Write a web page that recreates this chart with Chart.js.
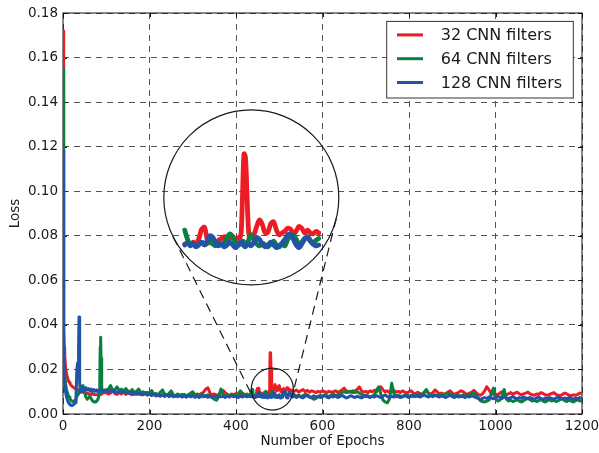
<!DOCTYPE html>
<html>
<head>
<meta charset="utf-8">
<script src="https://cdn.jsdelivr.net/npm/chart.js@4/dist/chart.umd.min.js"></script>
<style>
  html, body { margin: 0; padding: 0; background: #fff; }
  canvas { display: block; }
</style>
</head>
<body>
<canvas id="c" width="599" height="453"></canvas>
<script>
// Training epochs at which the loss was logged
const EPOCHS = [
  0, 1, 2, 3, 4, 6, 8, 10, 12, 14,
  16, 18, 20, 23, 26, 28, 30, 32, 34, 35,
  36, 37, 38, 39, 40, 42, 44, 46, 48, 50,
  53, 56, 59, 62, 65, 68, 71, 74, 77, 80,
  82, 84, 85, 86, 87, 88, 89, 90, 92, 95,
  98,
  100, 105, 110, 115, 120, 125, 130, 135, 140, 145,
  150, 155, 160, 165, 170, 175, 180, 185, 190, 195,
  200, 205, 210, 215, 220, 225, 230, 235, 240, 245,
  250, 255, 260, 265, 270, 275, 280, 285, 290, 295,
  300, 305, 310, 315, 320, 325, 330, 335, 340, 345,
  350, 355, 360, 365, 370, 375, 380, 385, 390, 395,
  400, 405, 410, 415, 420, 425, 430, 435,
  437, 439, 441, 443, 445, 447, 449, 451, 453, 455,
  457, 459, 461, 463, 465, 467, 469, 471, 473, 475,
  476, 477, 478, 479, 480, 481, 482, 483, 484,
  486, 488, 490, 492, 494, 496, 498, 500, 502, 504,
  506, 508, 510, 512, 514, 516, 518, 520, 522, 524,
  526, 528, 530, 532,
  535, 540, 545, 550, 555, 560, 565, 570, 575, 580,
  585, 590, 595, 600, 605, 610, 615, 620, 625, 630,
  635, 640, 645, 650, 655, 660, 665, 670, 675, 680,
  685, 690, 695, 700, 705, 710, 715, 720, 725, 730,
  735, 740, 745, 750, 755, 760, 765, 770, 775, 780,
  785, 790, 795, 800, 805, 810, 815, 820, 825, 830,
  835, 840, 845, 850, 855, 860, 865, 870, 875, 880,
  885, 890, 895, 900, 905, 910, 915, 920, 925, 930,
  935, 940, 945, 950, 955, 960, 965, 970, 975, 980,
  985, 990, 995, 1000, 1005, 1010, 1015, 1020, 1025, 1030,
  1035, 1040, 1045, 1050, 1055, 1060, 1065, 1070, 1075, 1080,
  1085, 1090, 1095, 1100, 1105, 1110, 1115, 1120, 1125, 1130,
  1135, 1140, 1145, 1150, 1155, 1160, 1165, 1170, 1175, 1180,
  1185, 1190, 1195, 1200
];

// Loss, 32 CNN filters
const LOSS_32 = [
  0.172, 0.062, 0.038, 0.030, 0.026, 0.021, 0.0185, 0.0165, 0.0152, 0.0143,
  0.0137, 0.0131, 0.0126, 0.0121, 0.0117, 0.0114, 0.0112, 0.0110, 0.0108, 0.0108,
  0.0107, 0.0106, 0.0105, 0.0104, 0.0103, 0.0101, 0.0100, 0.0098, 0.0097, 0.0096,
  0.0094, 0.0093, 0.0091, 0.0090, 0.0089, 0.0088, 0.0087, 0.0087, 0.0086, 0.0086,
  0.0087, 0.0088, 0.0089, 0.0088, 0.0089, 0.0090, 0.0091, 0.0092, 0.0094, 0.0095,
  0.0096,
  0.0095, 0.0090, 0.0094, 0.0104, 0.0092, 0.0088, 0.0096, 0.0090, 0.0100, 0.0088,
  0.0094, 0.0090, 0.0086, 0.0094, 0.0088, 0.0092, 0.0086, 0.0090, 0.0096, 0.0086,
  0.0088, 0.0084, 0.0090, 0.0086, 0.0082, 0.0088, 0.0084, 0.0090, 0.0086, 0.0082,
  0.0088, 0.0084, 0.0080, 0.0086, 0.0082, 0.0088, 0.0084, 0.0080, 0.0086, 0.0082,
  0.0088, 0.0084, 0.0090, 0.0086, 0.0092, 0.0098, 0.0112, 0.0118, 0.0094, 0.0086,
  0.0090, 0.0084, 0.0088, 0.0094, 0.0106, 0.0096, 0.0088, 0.0084, 0.0090, 0.0086,
  0.0092, 0.0084, 0.0088, 0.0094, 0.0086, 0.0090, 0.0084, 0.0088,
  0.0080, 0.0082, 0.0078, 0.0084, 0.0080, 0.0092, 0.0112, 0.0116, 0.0090, 0.0082,
  0.0086, 0.0080, 0.0088, 0.0092, 0.0096, 0.0088, 0.0092, 0.0096, 0.0090, 0.0094,
  0.0092, 0.0105, 0.0190, 0.0275, 0.0268, 0.0200, 0.0120, 0.0092, 0.0094,
  0.0100, 0.0118, 0.0132, 0.0122, 0.0104, 0.0106, 0.0124, 0.0128, 0.0110, 0.0100,
  0.0104, 0.0108, 0.0114, 0.0112, 0.0102, 0.0108, 0.0118, 0.0114, 0.0104, 0.0110,
  0.0104, 0.0102, 0.0107, 0.0104,
  0.0102, 0.0108, 0.0098, 0.0104, 0.0110, 0.0100, 0.0106, 0.0098, 0.0104, 0.0100,
  0.0096, 0.0102, 0.0098, 0.0104, 0.0100, 0.0096, 0.0102, 0.0098, 0.0100, 0.0104,
  0.0098, 0.0102, 0.0108, 0.0116, 0.0104, 0.0098, 0.0102, 0.0096, 0.0104, 0.0110,
  0.0122, 0.0104, 0.0098, 0.0102, 0.0096, 0.0104, 0.0100, 0.0106, 0.0100, 0.0112,
  0.0122, 0.0108, 0.0100, 0.0104, 0.0096, 0.0100, 0.0106, 0.0098, 0.0102, 0.0096,
  0.0104, 0.0098, 0.0094, 0.0100, 0.0104, 0.0094, 0.0090, 0.0098, 0.0092, 0.0088,
  0.0096, 0.0104, 0.0094, 0.0088, 0.0096, 0.0108, 0.0100, 0.0090, 0.0094, 0.0088,
  0.0092, 0.0098, 0.0104, 0.0094, 0.0088, 0.0092, 0.0098, 0.0104, 0.0100, 0.0092,
  0.0088, 0.0094, 0.0098, 0.0106, 0.0096, 0.0088, 0.0084, 0.0090, 0.0104, 0.0122,
  0.0108, 0.0092, 0.0088, 0.0090, 0.0086, 0.0094, 0.0100, 0.0092, 0.0086, 0.0090,
  0.0096, 0.0088, 0.0094, 0.0098, 0.0090, 0.0086, 0.0090, 0.0094, 0.0098, 0.0090,
  0.0086, 0.0084, 0.0090, 0.0088, 0.0096, 0.0092, 0.0086, 0.0084, 0.0088, 0.0092,
  0.0096, 0.0088, 0.0084, 0.0082, 0.0088, 0.0094, 0.0090, 0.0084, 0.0082, 0.0086,
  0.0084, 0.0088, 0.0094, 0.0090
];

// Loss, 64 CNN filters
const LOSS_64 = [
  0.155, 0.050, 0.028, 0.021, 0.017, 0.0135, 0.0112, 0.0096, 0.0085, 0.0076,
  0.0069, 0.0063, 0.0059, 0.0056, 0.0058, 0.0063, 0.0070, 0.0078, 0.0086, 0.0090,
  0.0094, 0.0098, 0.0102, 0.0106, 0.0110, 0.0118, 0.0126, 0.0128, 0.0118, 0.0098,
  0.0075, 0.0066, 0.0072, 0.0080, 0.0070, 0.0060, 0.0055, 0.0054, 0.0056, 0.0064,
  0.0072, 0.0090, 0.0150, 0.0300, 0.0345, 0.0250, 0.0150, 0.0110, 0.0098, 0.0102,
  0.0108,
  0.0108, 0.0112, 0.0128, 0.0106, 0.0110, 0.0122, 0.0104, 0.0112, 0.0100, 0.0114,
  0.0104, 0.0098, 0.0110, 0.0096, 0.0102, 0.0112, 0.0094, 0.0100, 0.0092, 0.0098,
  0.0090, 0.0105, 0.0088, 0.0092, 0.0086, 0.0098, 0.0108, 0.0088, 0.0084, 0.0092,
  0.0104, 0.0086, 0.0082, 0.0090, 0.0084, 0.0080, 0.0088, 0.0082, 0.0086, 0.0094,
  0.0100, 0.0086, 0.0080, 0.0084, 0.0090, 0.0082, 0.0078, 0.0086, 0.0080, 0.0074,
  0.0066, 0.0062, 0.0078, 0.0112, 0.0090, 0.0080, 0.0084, 0.0078, 0.0086, 0.0080,
  0.0084, 0.0090, 0.0104, 0.0092, 0.0082, 0.0086, 0.0080, 0.0096,
  0.0110, 0.0090, 0.0078, 0.0082, 0.0076, 0.0080, 0.0084, 0.0078, 0.0082, 0.0088,
  0.0080, 0.0076, 0.0082, 0.0078, 0.0084, 0.0094, 0.0102, 0.0096, 0.0084, 0.0078,
  0.0080, 0.0082, 0.0086, 0.0084, 0.0080, 0.0078, 0.0086, 0.0094, 0.0100,
  0.0090, 0.0080, 0.0076, 0.0082, 0.0078, 0.0074, 0.0080, 0.0086, 0.0078, 0.0074,
  0.0080, 0.0076, 0.0090, 0.0098, 0.0100, 0.0090, 0.0080, 0.0084, 0.0092, 0.0094,
  0.0086, 0.0080, 0.0088, 0.0092,
  0.0086, 0.0080, 0.0084, 0.0078, 0.0082, 0.0088, 0.0080, 0.0076, 0.0072, 0.0066,
  0.0070, 0.0078, 0.0084, 0.0080, 0.0086, 0.0082, 0.0078, 0.0084, 0.0090, 0.0082,
  0.0086, 0.0090, 0.0096, 0.0100, 0.0096, 0.0102, 0.0098, 0.0104, 0.0096, 0.0100,
  0.0094, 0.0088, 0.0082, 0.0078, 0.0082, 0.0076, 0.0080, 0.0086, 0.0108, 0.0122,
  0.0090, 0.0062, 0.0054, 0.0050, 0.0068, 0.0138, 0.0092, 0.0078, 0.0084, 0.0080,
  0.0076, 0.0082, 0.0086, 0.0080, 0.0084, 0.0078, 0.0086, 0.0080, 0.0090, 0.0084,
  0.0098, 0.0110, 0.0092, 0.0084, 0.0080, 0.0086, 0.0082, 0.0088, 0.0080, 0.0084,
  0.0090, 0.0096, 0.0086, 0.0080, 0.0084, 0.0088, 0.0082, 0.0078, 0.0084, 0.0080,
  0.0086, 0.0082, 0.0090, 0.0096, 0.0084, 0.0072, 0.0060, 0.0056, 0.0054, 0.0058,
  0.0062, 0.0090, 0.0116, 0.0070, 0.0058, 0.0062, 0.0080, 0.0110, 0.0068, 0.0058,
  0.0062, 0.0056, 0.0060, 0.0064, 0.0058, 0.0054, 0.0060, 0.0066, 0.0072, 0.0064,
  0.0058, 0.0062, 0.0056, 0.0060, 0.0066, 0.0058, 0.0054, 0.0060, 0.0064, 0.0058,
  0.0062, 0.0056, 0.0060, 0.0066, 0.0070, 0.0060, 0.0056, 0.0062, 0.0058, 0.0054,
  0.0060, 0.0064, 0.0058, 0.0060
];

// Loss, 128 CNN filters
const LOSS_128 = [
  0.118, 0.040, 0.022, 0.016, 0.013, 0.0098, 0.0078, 0.0064, 0.0054, 0.0047,
  0.0042, 0.0039, 0.0038, 0.0040, 0.0045, 0.0050, 0.0065, 0.0200, 0.0230, 0.0210,
  0.0300, 0.0435, 0.0280, 0.0140, 0.0100, 0.0098, 0.0112, 0.0104, 0.0116, 0.0106,
  0.0118, 0.0108, 0.0114, 0.0104, 0.0112, 0.0100, 0.0110, 0.0102, 0.0108, 0.0100,
  0.0106, 0.0102, 0.0108, 0.0104, 0.0110, 0.0104, 0.0100, 0.0106, 0.0100, 0.0108,
  0.0102,
  0.0106, 0.0098, 0.0108, 0.0101, 0.0104, 0.0095, 0.0103, 0.0096, 0.0100, 0.0093,
  0.0099, 0.0092, 0.0096, 0.0089, 0.0095, 0.0090, 0.0093, 0.0086, 0.0092, 0.0085,
  0.0090, 0.0083, 0.0088, 0.0081, 0.0087, 0.0080, 0.0085, 0.0079, 0.0085, 0.0078,
  0.0084, 0.0077, 0.0082, 0.0078, 0.0084, 0.0076, 0.0081, 0.0075, 0.0083, 0.0077,
  0.0082, 0.0075, 0.0080, 0.0074, 0.0082, 0.0077, 0.0083, 0.0075, 0.0080, 0.0074,
  0.0081, 0.0076, 0.0082, 0.0077, 0.0080, 0.0074, 0.0081, 0.0076, 0.0082, 0.0077,
  0.0080, 0.0074, 0.0081, 0.0076, 0.0082, 0.0077, 0.0080, 0.0077,
  0.0078, 0.0082, 0.0076, 0.0080, 0.0074, 0.0078, 0.0084, 0.0078, 0.0088, 0.0098,
  0.0094, 0.0082, 0.0076, 0.0080, 0.0074, 0.0078, 0.0084, 0.0078, 0.0072, 0.0078,
  0.0082, 0.0084, 0.0080, 0.0076, 0.0074, 0.0078, 0.0082, 0.0078, 0.0076,
  0.0084, 0.0094, 0.0090, 0.0080, 0.0074, 0.0078, 0.0084, 0.0078, 0.0072, 0.0076,
  0.0082, 0.0090, 0.0100, 0.0100, 0.0090, 0.0078, 0.0072, 0.0080, 0.0090, 0.0096,
  0.0088, 0.0080, 0.0076, 0.0078,
  0.0080, 0.0074, 0.0082, 0.0076, 0.0072, 0.0080, 0.0086, 0.0078, 0.0074, 0.0082,
  0.0076, 0.0080, 0.0074, 0.0078, 0.0084, 0.0076, 0.0072, 0.0080, 0.0076, 0.0082,
  0.0074, 0.0078, 0.0084, 0.0078, 0.0072, 0.0076, 0.0082, 0.0078, 0.0074, 0.0080,
  0.0076, 0.0072, 0.0078, 0.0084, 0.0078, 0.0074, 0.0080, 0.0076, 0.0082, 0.0078,
  0.0074, 0.0080, 0.0086, 0.0078, 0.0074, 0.0080, 0.0076, 0.0082, 0.0078, 0.0074,
  0.0080, 0.0084, 0.0078, 0.0074, 0.0080, 0.0086, 0.0078, 0.0082, 0.0076, 0.0080,
  0.0086, 0.0080, 0.0076, 0.0082, 0.0078, 0.0084, 0.0080, 0.0076, 0.0082, 0.0078,
  0.0074, 0.0080, 0.0084, 0.0078, 0.0074, 0.0080, 0.0076, 0.0082, 0.0078, 0.0074,
  0.0080, 0.0076, 0.0082, 0.0078, 0.0074, 0.0070, 0.0066, 0.0070, 0.0074, 0.0070,
  0.0076, 0.0072, 0.0068, 0.0074, 0.0080, 0.0074, 0.0070, 0.0076, 0.0072, 0.0068,
  0.0074, 0.0078, 0.0072, 0.0068, 0.0074, 0.0070, 0.0076, 0.0072, 0.0068, 0.0074,
  0.0070, 0.0066, 0.0072, 0.0076, 0.0070, 0.0066, 0.0072, 0.0068, 0.0074, 0.0070,
  0.0066, 0.0072, 0.0076, 0.0070, 0.0066, 0.0072, 0.0068, 0.0074, 0.0070, 0.0066,
  0.0072, 0.0068, 0.0074, 0.0070
];

const SERIES_LABELS = ['32 CNN filters', '64 CNN filters', '128 CNN filters'];
const SERIES_COLORS = ['#ec1c24', '#0a7f3f', '#2353a6'];

// Axis ranges and ticks
const X_RANGE = [0, 1200];
const X_STEP = 200;
const Y_RANGE = [0, 0.18];
const Y_STEP = 0.02;

// Magnified view: epochs shown, and the hidden axes it is drawn on
const INSET_EPOCHS = [437, 532];
const INSET_X_RANGE = [350.7, 718.6];
const INSET_Y_RANGE = [-0.0288, 0.0580];

// Zoom marker (small circle) and magnifier (large circle), centres in data units, radii in px
const ZOOM_MARK = { x: 484, y: 0.0112, r: 21 };
const MAGNIFIER = { x: 435.4, y: 0.0972, r: 87.5 };

const FONT = 'DejaVu Sans';

const toPoints = (vals) => EPOCHS.map((e, i) => ({ x: e, y: vals[i] }));
const inInset = (p) => p.x >= INSET_EPOCHS[0] && p.x <= INSET_EPOCHS[1];
const allSeries = [LOSS_32, LOSS_64, LOSS_128];
const n = allSeries.length;

const datasets = [];
// Later series are painted over earlier ones (higher order = painted first)
allSeries.forEach((vals, i) => {
  datasets.push({
    label: SERIES_LABELS[i],
    data: toPoints(vals),
    borderColor: SERIES_COLORS[i],
    borderWidth: 3,
    borderJoinStyle: 'round',
    pointRadius: 0,
    tension: 0,
    order: 2 * n - i,
    xAxisID: 'x',
    yAxisID: 'y'
  });
});
allSeries.forEach((vals, i) => {
  datasets.push({
    label: SERIES_LABELS[i] + ' (zoom)',
    data: toPoints(vals).filter(inInset),
    borderColor: SERIES_COLORS[i],
    borderWidth: 4.8,
    borderJoinStyle: 'round',
    borderCapStyle: 'round',
    pointRadius: 0,
    tension: 0.35,
    order: n - i,
    xAxisID: 'xi',
    yAxisID: 'yi',
    clip: false
  });
});

// Axes frame with inward tick marks, drawn under the data
const framePlugin = {
  id: 'frame',
  beforeDatasetsDraw(chart) {
    const { ctx, chartArea: a, scales } = chart;
    ctx.save();
    ctx.strokeStyle = '#111';
    ctx.lineWidth = 1;
    ctx.setLineDash([]);
    ctx.strokeRect(a.left, a.top, a.right - a.left, a.bottom - a.top);
    ctx.beginPath();
    scales.x.ticks.forEach(t => {
      const px = Math.round(scales.x.getPixelForValue(t.value)) + 0.5;
      ctx.moveTo(px, a.bottom); ctx.lineTo(px, a.bottom - 4);
      ctx.moveTo(px, a.top); ctx.lineTo(px, a.top + 4);
    });
    scales.y.ticks.forEach(t => {
      const py = Math.round(scales.y.getPixelForValue(t.value)) + 0.5;
      ctx.moveTo(a.left, py); ctx.lineTo(a.left + 4, py);
      ctx.moveTo(a.right, py); ctx.lineTo(a.right - 4, py);
    });
    ctx.stroke();
    ctx.restore();
  }
};

// Zoom marker, magnifier and the dashed tangents joining them
const magnifierPlugin = {
  id: 'magnifier',
  afterDatasetsDraw(chart) {
    const { ctx, scales } = chart;
    const c1 = { x: scales.x.getPixelForValue(MAGNIFIER.x), y: scales.y.getPixelForValue(MAGNIFIER.y), r: MAGNIFIER.r };
    const c2 = { x: scales.x.getPixelForValue(ZOOM_MARK.x), y: scales.y.getPixelForValue(ZOOM_MARK.y), r: ZOOM_MARK.r };
    ctx.save();
    ctx.strokeStyle = '#1a1a1a';
    ctx.lineWidth = 1.2;
    ctx.setLineDash([]);
    [c1, c2].forEach(c => {
      ctx.beginPath();
      ctx.arc(c.x, c.y, c.r, 0, Math.PI * 2);
      ctx.stroke();
    });
    const dx = c2.x - c1.x, dy = c2.y - c1.y;
    const d = Math.hypot(dx, dy);
    const theta = Math.atan2(dy, dx);
    const alpha = Math.asin((c1.r - c2.r) / d);
    ctx.setLineDash([9, 6]);
    [1, -1].forEach(s => {
      const ang = theta + s * (Math.PI / 2 + alpha);
      const nx = Math.cos(ang), ny = Math.sin(ang);
      ctx.beginPath();
      ctx.moveTo(c1.x - c1.r * nx, c1.y - c1.r * ny);
      ctx.lineTo(c2.x - c2.r * nx, c2.y - c2.r * ny);
      ctx.stroke();
    });
    ctx.restore();
  }
};

// Boxed legend in the upper right corner of the plot
const legendPlugin = {
  id: 'boxLegend',
  afterDraw(chart) {
    const { ctx, chartArea: a } = chart;
    const w = 186.6, h = 76.6;
    const x0 = a.right - 8.7 - w, y0 = a.top + 8.4;
    ctx.save();
    ctx.fillStyle = '#fff';
    ctx.fillRect(x0, y0, w, h);
    ctx.strokeStyle = '#333';
    ctx.lineWidth = 1;
    ctx.setLineDash([]);
    ctx.strokeRect(x0, y0, w, h);
    ctx.font = '16px "' + FONT + '"';
    ctx.textBaseline = 'middle';
    ctx.textAlign = 'left';
    SERIES_LABELS.forEach((lab, i) => {
      const y = y0 + 13.5 + i * 23.8;
      ctx.strokeStyle = SERIES_COLORS[i];
      ctx.lineWidth = 3;
      ctx.beginPath();
      ctx.moveTo(x0 + 10.3, y);
      ctx.lineTo(x0 + 36.3, y);
      ctx.stroke();
      ctx.fillStyle = '#1a1a1a';
      ctx.fillText(lab, x0 + 54, y + 1);
    });
    ctx.restore();
  }
};

const gridStyle = { color: '#555', lineWidth: 1, drawTicks: false, tickLength: 0 };
const tickFont = { family: FONT, size: 13.5 };

new Chart(document.getElementById('c'), {
  type: 'line',
  data: { datasets },
  options: {
    responsive: false,
    animation: false,
    devicePixelRatio: 1,
    layout: { padding: { left: 0, right: 17, top: 13, bottom: 0 } },
    plugins: { legend: { display: false }, tooltip: { enabled: false } },
    scales: {
      x: {
        type: 'linear',
        position: 'bottom',
        min: X_RANGE[0], max: X_RANGE[1],
        ticks: { stepSize: X_STEP, padding: 4, color: '#1a1a1a', font: tickFont, maxRotation: 0,
                 callback: (v) => String(v) },
        grid: gridStyle,
        border: { display: false, dash: [6, 5] },
        title: { display: true, text: 'Number of Epochs', color: '#1a1a1a', font: tickFont, padding: { top: 3, bottom: 3 } },
        afterFit: (s) => { s.height = 39; s.paddingLeft = 0; s.paddingRight = 0; }
      },
      y: {
        type: 'linear',
        position: 'left',
        min: Y_RANGE[0], max: Y_RANGE[1],
        ticks: { stepSize: Y_STEP, padding: 5, color: '#1a1a1a', font: tickFont,
                 callback: (v) => Number(v).toFixed(2) },
        grid: gridStyle,
        border: { display: false, dash: [6, 5] },
        title: { display: true, text: 'Loss', color: '#1a1a1a', font: tickFont, padding: { top: 7, bottom: 3 } },
        afterFit: (s) => { s.width = 63; s.paddingTop = 0; s.paddingBottom = 0; }
      },
      xi: { type: 'linear', display: false, min: INSET_X_RANGE[0], max: INSET_X_RANGE[1] },
      yi: { type: 'linear', display: false, min: INSET_Y_RANGE[0], max: INSET_Y_RANGE[1] }
    }
  },
  plugins: [framePlugin, magnifierPlugin, legendPlugin]
});
</script>
</body>
</html>
